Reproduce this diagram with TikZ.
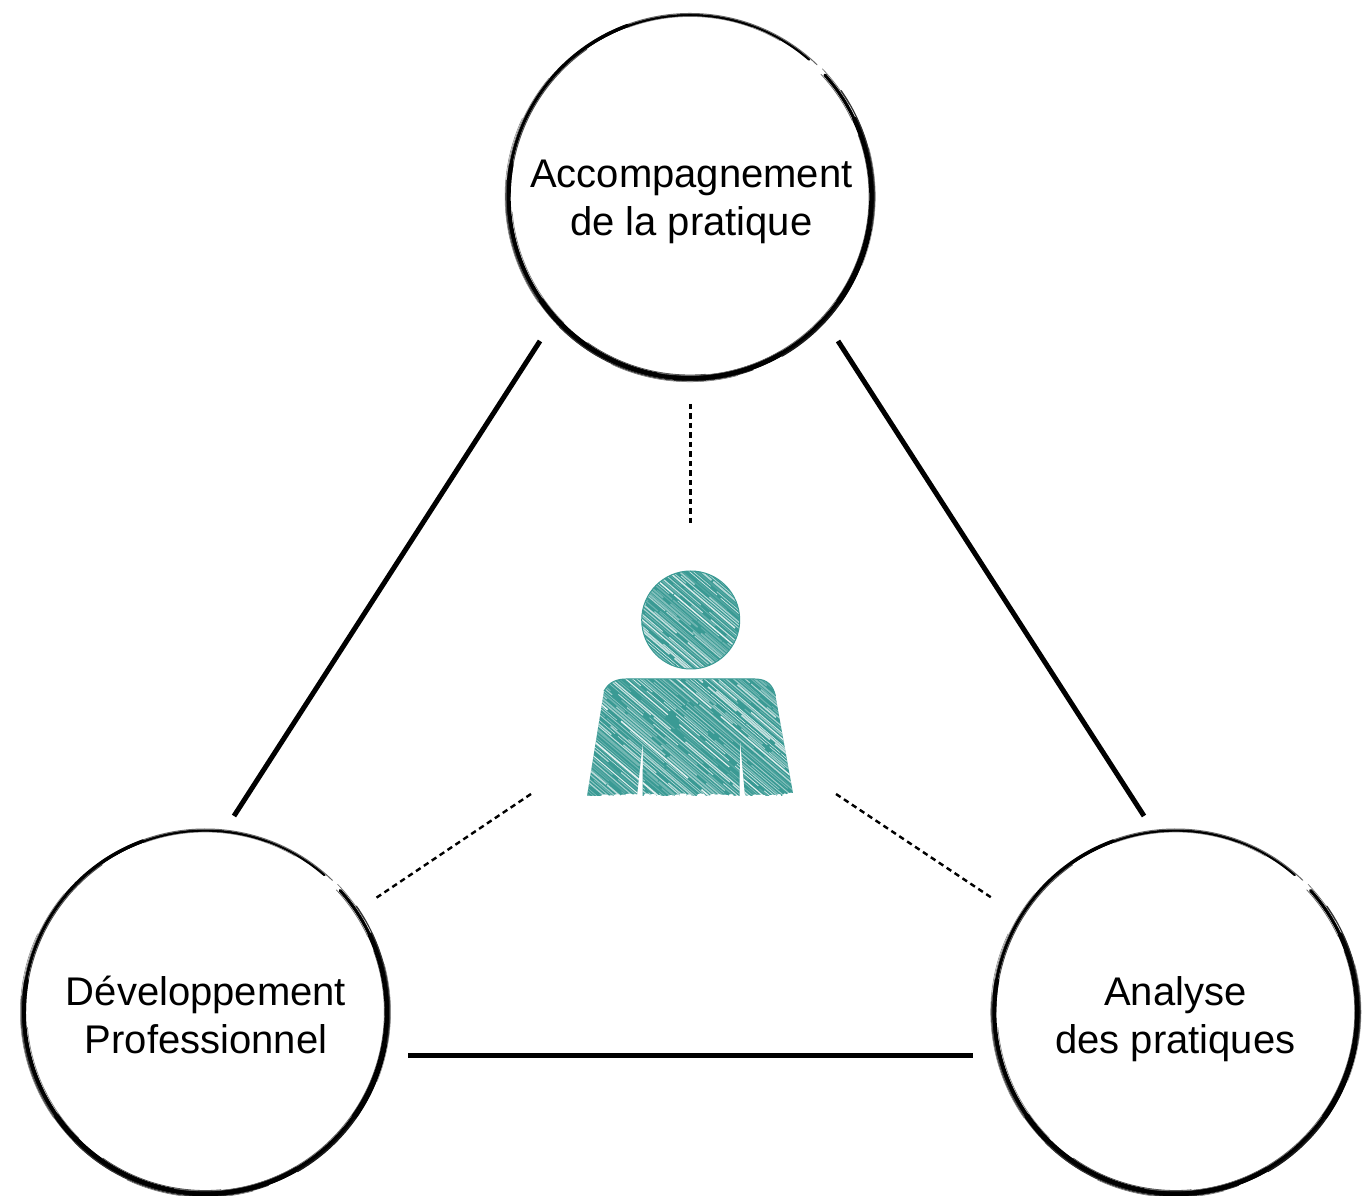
\documentclass[tikz,border=0pt]{standalone}
\usepackage{fontspec}
\setmainfont{Liberation Sans}
\definecolor{tealfill}{HTML}{3A9A94}
\newcommand{\sketchring}[2]{%
  \foreach \sa/\ea/\dr/\wd/\gr in {
    49/130/0/2.4/100, 46/125/1.5/1.0/60, 60/110/-1.5/0.7/50, 70/120/-0.5/1.2/100, 30/44/2.4/0.6/60,
    110/190/0.5/3.4/100, 125/180/-1.7/1.0/70, 140/200/2.4/0.8/50,
    170/250/0/4.4/100, 175/240/2.6/1.4/70, 185/225/-3/0.7/50, 155/215/3.5/0.5/50,
    215/300/0/5.2/100, 225/290/2.9/1.1/80, 235/275/-3/0.8/70, 260/320/-2.4/0.8/60, 245/285/3.8/0.5/60,
    265/330/0.4/4.6/100, 300/365/2.6/1.6/90, 320/380/-2.4/0.8/60,
    325/385/0.5/5.4/100, 350/395/3/1.2/80, 370/402/0/3.2/100, 385/403/-2.4/0.7/60, 338/375/3.8/0.5/50%
  }{%
    \draw[line width=\wd pt, black!\gr, line cap=round]
      ([shift={(\sa:181.5+\dr)}]#1,#2) arc[start angle=\sa, end angle=\ea, radius=181.5+\dr];
  }%
}
\tikzset{
  topic/.style={circle, minimum size=360pt, inner sep=0pt, align=center,
    font=\fontsize{40}{48}\selectfont},
  solidlink/.style={line width=5pt, black},
  dashlink/.style={line width=2.4pt, black, dash pattern=on 5.5pt off 4pt}
}
\begin{document}
\begin{tikzpicture}[x=1pt,y=1pt]
\useasboundingbox (0,0) rectangle (1370,1196);
\fill[white] (0,0) rectangle (1370,1196);

\sketchring{690}{999.5}
\sketchring{205.3}{184}
\sketchring{1175.7}{184}

\node[topic] (top) at (691.3,994) {Accompagnement\\de la pratique};
\node[topic] (left) at (206,181.5) {Développement\\Professionnel};
\node[topic] (right) at (1175.4,176.5) {Analyse\\des pratiques};

\coordinate (tl) at (540,855);
\coordinate (lt) at (234,380);
\coordinate (tr) at (838,855);
\coordinate (rt) at (1144,380);
\coordinate (lr) at (408,140.5);
\coordinate (rl) at (973,140.5);
\draw[solidlink] (tl) -- (lt);
\draw[solidlink] (tr) -- (rt);
\draw[solidlink] (lr) -- (rl);

\coordinate (td) at (690.5,792);
\coordinate (pt) at (690.5,670);
\coordinate (pl) at (531,402);
\coordinate (ld) at (376,298);
\coordinate (pr) at (836,402);
\coordinate (rd) at (992,298);
\draw[dashlink] (td) -- (pt);
\draw[dashlink] (pl) -- (ld);
\draw[dashlink] (pr) -- (rd);

% person
\def\personshape{
  (690.7,576) circle[radius=49]
  (587,400) -- (604,505) .. controls (607,510) and (612,517) .. (626,517)
  -- (755,517) .. controls (768,517) and (773,510) .. (775.5,500)
  -- (793.5,400) -- (745,400) -- (740,456) -- (739.5,400) -- (642.5,400)
  -- (643,456) -- (637,400) -- cycle
}
\fill[tealfill] \personshape;
\begin{scope}
  \clip \personshape;
  \pgfmathsetseed{11}
  \foreach \i in {0,...,120}{
    \pgfmathsetmacro\wdth{0.5+1.2*rnd}
    \pgfmathsetmacro\op{10+80*rnd}
    \pgfmathsetmacro\da{30+150*rnd}
    \pgfmathsetmacro\db{1+20*rnd}
    \pgfmathsetmacro\dx{\i*3.6+2*rnd}
    \draw[white, opacity=\op/100, line width=\wdth pt, dash pattern=on \da pt off \db pt]
      (\dx+235,680) -- ++(340,-289);
  }
\end{scope}
\draw[tealfill, line width=1pt] (690.7,576) circle[radius=49];
\draw[tealfill, line width=1pt]
  (604,505) .. controls (607,510) and (612,517) .. (626,517)
  -- (755,517) .. controls (768,517) and (773,510) .. (775.5,500);
\pgfmathsetseed{5}
\foreach \i in {0,...,34}{
  \pgfmathsetmacro\xx{587+\i*6}
  \pgfmathsetmacro\yy{398+3*rnd}
  \pgfmathsetmacro\rx{2+3*rnd}
  \pgfmathsetmacro\ry{0.8+1.8*rnd}
  \fill[white] (\xx,\yy) ellipse[x radius=\rx, y radius=\ry];
}
\end{tikzpicture}
\end{document}
